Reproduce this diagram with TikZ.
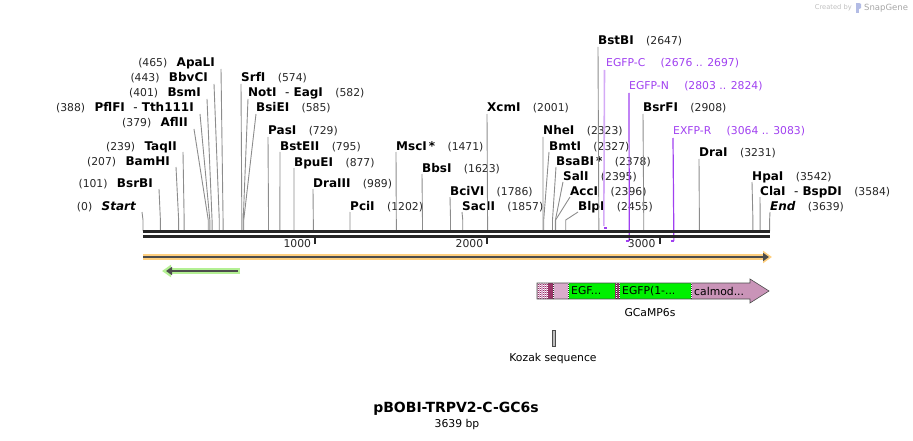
\documentclass[tikz,border=0pt]{standalone}
\usepackage{fontspec}
\setmainfont{DejaVu Sans}
\usepackage{tikz}
\usetikzlibrary{positioning,arrows.meta}
\definecolor{sitegray}{HTML}{8C8C8C}
\definecolor{primer}{HTML}{A040F0}
\definecolor{primerlt}{HTML}{D4AAF6}
\definecolor{orfhalo}{HTML}{FFD080}
\definecolor{greenhalo}{HTML}{B4F094}
\definecolor{featpink}{HTML}{C994B8}
\definecolor{featlt}{HTML}{D9ABCB}
\definecolor{featdark}{HTML}{993366}
\definecolor{featgreen}{HTML}{00F000}
\newcommand{\bpx}[1]{143+0.1722*#1}
\tikzset{siteR/.style={anchor=west,inner sep=0pt,text height=8pt,text depth=2pt,font=\fontsize{12}{14}\selectfont\bfseries}}
\tikzset{siteL/.style={siteR,anchor=east}}
\tikzset{num/.style={inner sep=0pt,text height=8pt,text depth=2pt,font=\fontsize{10.8}{13}\selectfont,text=black!85}}
\tikzset{numR/.style={num,xshift=12pt}}
\tikzset{numL/.style={num,xshift=-9pt}}
\tikzset{plab/.style={anchor=west,inner sep=0pt,text height=8pt,text depth=2pt,font=\fontsize{10.8}{13}\selectfont,text=primer}}
\tikzset{pnum/.style={num,text=primer,xshift=15pt}}
\tikzset{cut/.style={draw=sitegray,line width=0.9pt}}
\tikzset{plain/.style={inner sep=0pt,font=\fontsize{10.8}{13}\selectfont}}

\begin{document}
\begin{tikzpicture}[x=1pt,y=-1pt,>=Stealth]
    \useasboundingbox (0,0) rectangle (913,441);

    % sites, labels to the left
    \node[siteL,label={[numL]west:(465)}] (apali) at (215,64) {ApaLI};
    \node[siteL,label={[numL]west:(443)}] (bbvci) at (208,79) {BbvCI};
    \node[siteL,label={[numL]west:(401)}] (bsmi) at (201,94) {BsmI};
    \node[siteL,label={[numL]west:(388)}] (pflfi) at (194,109) {PflFI~~\textmd{-} Tth111I};
    \node[siteL,label={[numL]west:(379)}] (aflii) at (188,124) {AflII};
    \node[siteL,label={[numL]west:(239)}] (taqii) at (177,147) {TaqII};
    \node[siteL,label={[numL]west:(207)}] (bamhi) at (170,162) {BamHI};
    \node[siteL,label={[numL]west:(101)}] (bsrbi) at (153,184) {BsrBI};
    \node[siteL,label={[numL]west:(0)}] (start) at (136,207) {\itshape Start};

    \draw [cut] (apali.east) ++(6,5) -- ({\bpx{465}},220) -- ({\bpx{465}},231);
    \draw [cut] (bbvci.east) ++(6,5) -- ({\bpx{443}},220) -- ({\bpx{443}},231);
    \draw [cut] (bsmi.east) ++(6,5) -- ({\bpx{401}},220) -- ({\bpx{401}},231);
    \draw [cut] (pflfi.east) ++(6,5) -- ({\bpx{388}},220) -- ({\bpx{388}},231);
    \draw [cut] (aflii.east) ++(6,5) -- ({\bpx{379}},220) -- ({\bpx{379}},231);
    \draw [cut] (taqii.east) ++(6,5) -- ({\bpx{239}},220) -- ({\bpx{239}},231);
    \draw [cut] (bamhi.east) ++(6,5) -- ({\bpx{207}},220) -- ({\bpx{207}},231);
    \draw [cut] (bsrbi.east) ++(6,5) -- ({\bpx{101}},220) -- ({\bpx{101}},231);
    \draw [cut] (start.east) ++(6,5) -- ({\bpx{0}},220) -- ({\bpx{0}},231);

    % sites, labels to the right
    \node[siteR,label={[numR]east:(574)}] (srfi) at (241,79) {SrfI};
    \node[siteR,label={[numR]east:(582)}] (noti) at (248,94) {NotI~~\textmd{-} EagI};
    \node[siteR,label={[numR]east:(585)}] (bsiei) at (256,109) {BsiEI};
    \node[siteR,label={[numR]east:(729)}] (pasi) at (268,132) {PasI};
    \node[siteR,label={[numR]east:(795)}] (bsteii) at (280,147) {BstEII};
    \node[siteR,label={[numR]east:(877)}] (bpuei) at (294,163) {BpuEI};
    \node[siteR,label={[numR]east:(989)}] (draiii) at (313,184) {DraIII};
    \node[siteR,label={[numR]east:(1202)}] (pcii) at (350,207) {PciI};
    \node[siteR,label={[numR]east:(1471)}] (msci) at (396,147) {MscI\,*};
    \node[siteR,label={[numR]east:(1623)}] (bbsi) at (422,169) {BbsI};
    \node[siteR,label={[numR]east:(1786)}] (bcivi) at (450,192) {BciVI};
    \node[siteR,label={[numR]east:(1857)}] (sacii) at (462,207) {SacII};
    \node[siteR,label={[numR]east:(2001)}] (xcmi) at (487,109) {XcmI};
    \node[siteR,label={[numR]east:(2323)}] (nhei) at (543,132) {NheI};
    \node[siteR,label={[numR]east:(2327)}] (bmti) at (549,147) {BmtI};
    \node[siteR,label={[numR]east:(2378)}] (bsabi) at (556,162) {BsaBI\,*};
    \node[siteR,label={[numR]east:(2395)}] (sali) at (563,177) {SalI};
    \node[siteR,label={[numR]east:(2396)}] (acci) at (570,192) {AccI};
    \node[siteR,label={[numR]east:(2455)}] (blpi) at (578,207) {BlpI};
    \node[siteR,label={[numR]east:(2647)}] (bstbi) at (598,42) {BstBI};
    \node[siteR,label={[numR]east:(2908)}] (bsrfi) at (643,109) {BsrFI};
    \node[siteR,label={[numR]east:(3231)}] (drai) at (699,154) {DraI};
    \node[siteR,label={[numR]east:(3542)}] (hpai) at (752,177) {HpaI};
    \node[siteR,label={[numR]east:(3584)}] (clai) at (760,192) {ClaI~~\textmd{-} BspDI};
    \node[siteR,label={[numR]east:(3639)}] (end) at (770,207) {\itshape End};

    \draw [cut] (srfi.west) ++(0,5) -- ({\bpx{574}},220) -- ({\bpx{574}},231);
    \draw [cut] (noti.west) ++(0,5) -- ({\bpx{582}},220) -- ({\bpx{582}},231);
    \draw [cut] (bsiei.west) ++(0,5) -- ({\bpx{585}},220) -- ({\bpx{585}},231);
    \draw [cut] (pasi.west) ++(0,5) -- ({\bpx{729}},220) -- ({\bpx{729}},231);
    \draw [cut] (bsteii.west) ++(0,5) -- ({\bpx{795}},220) -- ({\bpx{795}},231);
    \draw [cut] (bpuei.west) ++(0,5) -- ({\bpx{877}},220) -- ({\bpx{877}},231);
    \draw [cut] (draiii.west) ++(0,5) -- ({\bpx{989}},220) -- ({\bpx{989}},231);
    \draw [cut] (pcii.west) ++(0,5) -- ({\bpx{1202}},220) -- ({\bpx{1202}},231);
    \draw [cut] (msci.west) ++(0,5) -- ({\bpx{1471}},220) -- ({\bpx{1471}},231);
    \draw [cut] (bbsi.west) ++(0,5) -- ({\bpx{1623}},220) -- ({\bpx{1623}},231);
    \draw [cut] (bcivi.west) ++(0,5) -- ({\bpx{1786}},220) -- ({\bpx{1786}},231);
    \draw [cut] (sacii.west) ++(0,5) -- ({\bpx{1857}},220) -- ({\bpx{1857}},231);
    \draw [cut] (xcmi.west) ++(0,5) -- ({\bpx{2001}},220) -- ({\bpx{2001}},231);
    \draw [cut] (nhei.west) ++(0,5) -- ({\bpx{2323}},220) -- ({\bpx{2323}},231);
    \draw [cut] (bmti.west) ++(0,5) -- ({\bpx{2327}},220) -- ({\bpx{2327}},231);
    \draw [cut] (bsabi.west) ++(0,5) -- ({\bpx{2378}},220) -- ({\bpx{2378}},231);
    \draw [cut] (sali.west) ++(0,5) -- ({\bpx{2395}},220) -- ({\bpx{2395}},231);
    \draw [cut] (acci.west) ++(0,5) -- ({\bpx{2396}},220) -- ({\bpx{2396}},231);
    \draw [cut] (blpi.west) ++(0,5) -- ({\bpx{2455}},220) -- ({\bpx{2455}},231);
    \draw [cut] (bstbi.west) ++(0,5) -- ({\bpx{2647}},220) -- ({\bpx{2647}},231);
    \draw [cut] (bsrfi.west) ++(0,5) -- ({\bpx{2908}},220) -- ({\bpx{2908}},231);
    \draw [cut] (drai.west) ++(0,5) -- ({\bpx{3231}},220) -- ({\bpx{3231}},231);
    \draw [cut] (hpai.west) ++(0,5) -- ({\bpx{3542}},220) -- ({\bpx{3542}},231);
    \draw [cut] (clai.west) ++(0,5) -- ({\bpx{3584}},220) -- ({\bpx{3584}},231);
    \draw [cut] (end.west) ++(0,5) -- ({\bpx{3639}},220) -- ({\bpx{3639}},231);

    % primers
    \node[plab,label={[pnum]east:(2676 .. 2697)}] (egfpc) at (606,64) {EGFP-C};
    \node[plab,label={[pnum]east:(2803 .. 2824)}] (egfpn) at (629,87) {EGFP-N};
    \node[plab,label={[pnum]east:(3064 .. 3083)}] (exfpr) at (673,132) {EXFP-R};
    \coordinate (egfpc-b) at ({\bpx{2676}},226);
    \coordinate (egfpn-b) at ({\bpx{2824}},241);
    \coordinate (exfpr-b) at ({\bpx{3083}},241);
    \draw [primerlt,line width=1.6pt] (egfpc.west) ++(-1.5,6) -- (egfpc-b);
    \draw [primer,line width=1.2pt] (egfpn.west) ++(0,6) -- (egfpn-b);
    \draw [primer,line width=1.2pt] (exfpr.west) ++(0,6) -- (exfpr-b);
    \draw [primer,line width=2pt] ({\bpx{2676}},228) -- ({\bpx{2697}},228);
    \draw [primer,line width=2pt] ({\bpx{2803}},240.5) -- ({\bpx{2824}},240.5);
    \draw [primer,line width=2pt] ({\bpx{3064}},240.5) -- ({\bpx{3083}},240.5);

    % backbone and ticks
    \draw [black!85,line width=2.7pt] (143,231.7) -- (770,231.7);
    \draw [black!85,line width=2.7pt] (143,236.3) -- (770,236.3);
    \foreach \k in {1,2,3} {
        \draw [black!85,line width=2pt] ({\bpx{1000*\k}},237) -- ++(0,7);
        \node[num,anchor=east] (tick\k) at ({\bpx{1000*\k}-4},244) {\k000};
    }

    % orf bars
    \draw [orfhalo,line width=6pt,-{Triangle[length=9pt,width=12pt]}] (143,257) -- (772,257);
    \draw [black!70,line width=2pt,-{Triangle[length=6pt,width=8pt]}] (143,257) -- (769,257);
    \draw [greenhalo,line width=6pt,-{Triangle[length=9pt,width=12pt]}] (240,271) -- (162,271);
    \draw [black!70,line width=2pt,-{Triangle[length=6pt,width=8pt]}] (238,271) -- (166,271);

    % GCaMP6s feature
    \fill [featlt] (537,283) rectangle (548,299);
    \fill [featdark] (548,283) rectangle (553,299);
    \fill [featlt] (553,283) rectangle (568,299);
    \fill [featgreen] (568,283) rectangle (615,299);
    \fill [featdark] (615,283) rectangle (620,299);
    \fill [featgreen] (620,283) rectangle (691,299);
    \fill [featpink] (691,283) -- (750,283) -- (750,279) -- (769,291) -- (750,303) -- (750,299) -- (691,299) -- cycle;
    \foreach \s in {538.5,540.5,543,545.5,547} {
        \draw [featdark,line width=1pt] (\s,283) -- (\s,299);
        \draw [white,line width=0.6pt,dash pattern=on 1pt off 1pt] (\s,283) -- (\s,299);
    }
    \foreach \s in {553,568.5,616,619,691.5} {
        \draw [black!80,line width=0.8pt] (\s,283) -- (\s,299);
        \draw [white,line width=0.5pt,dash pattern=on 1pt off 1pt] (\s,283) -- (\s,299);
    }
    \draw [black!70,line width=0.6pt] (537,283) -- (750,283) -- (750,279) -- (769,291) -- (750,303) -- (750,299) -- (537,299) -- cycle;
    \node[plain,anchor=west] (egf1) at (571,291) {EGF...};
    \node[plain,anchor=west] (egf2) at (622,291) {EGFP(1-...};
    \node[plain,anchor=west] (calm) at (694,291) {calmod...};
    \node[plain] (gcamp) at (650,313) {GCaMP6s};

    % Kozak
    \draw [black!70,fill=black!25,line width=0.6pt] (552,330) rectangle (555,346);
    \node[plain] (kozak) at (553,359) {Kozak sequence};

    % title
    \node[inner sep=0pt,font=\fontsize{14}{16}\selectfont\bfseries] (title) at (456,409) {pBOBI-TRPV2-C-GC6s};
    \node[plain] (bp) at (457,425) {3639 bp};

    % watermark
    \node[inner sep=0pt,anchor=east,text=black!25,font=\fontsize{6.7}{8}\selectfont] (made) at (852,8) {Created by};
    \fill [cyan!35!blue!30] (856,3) rectangle (859,13);
    \fill [cyan!35!blue!30] (859,3) -- (861,4) -- (861,8) -- (859,9) -- cycle;
    \node[inner sep=0pt,anchor=west,text=black!35,font=\fontsize{8.5}{10}\selectfont] (sg) at (864,8) {SnapGene};
\end{tikzpicture}
\end{document}
